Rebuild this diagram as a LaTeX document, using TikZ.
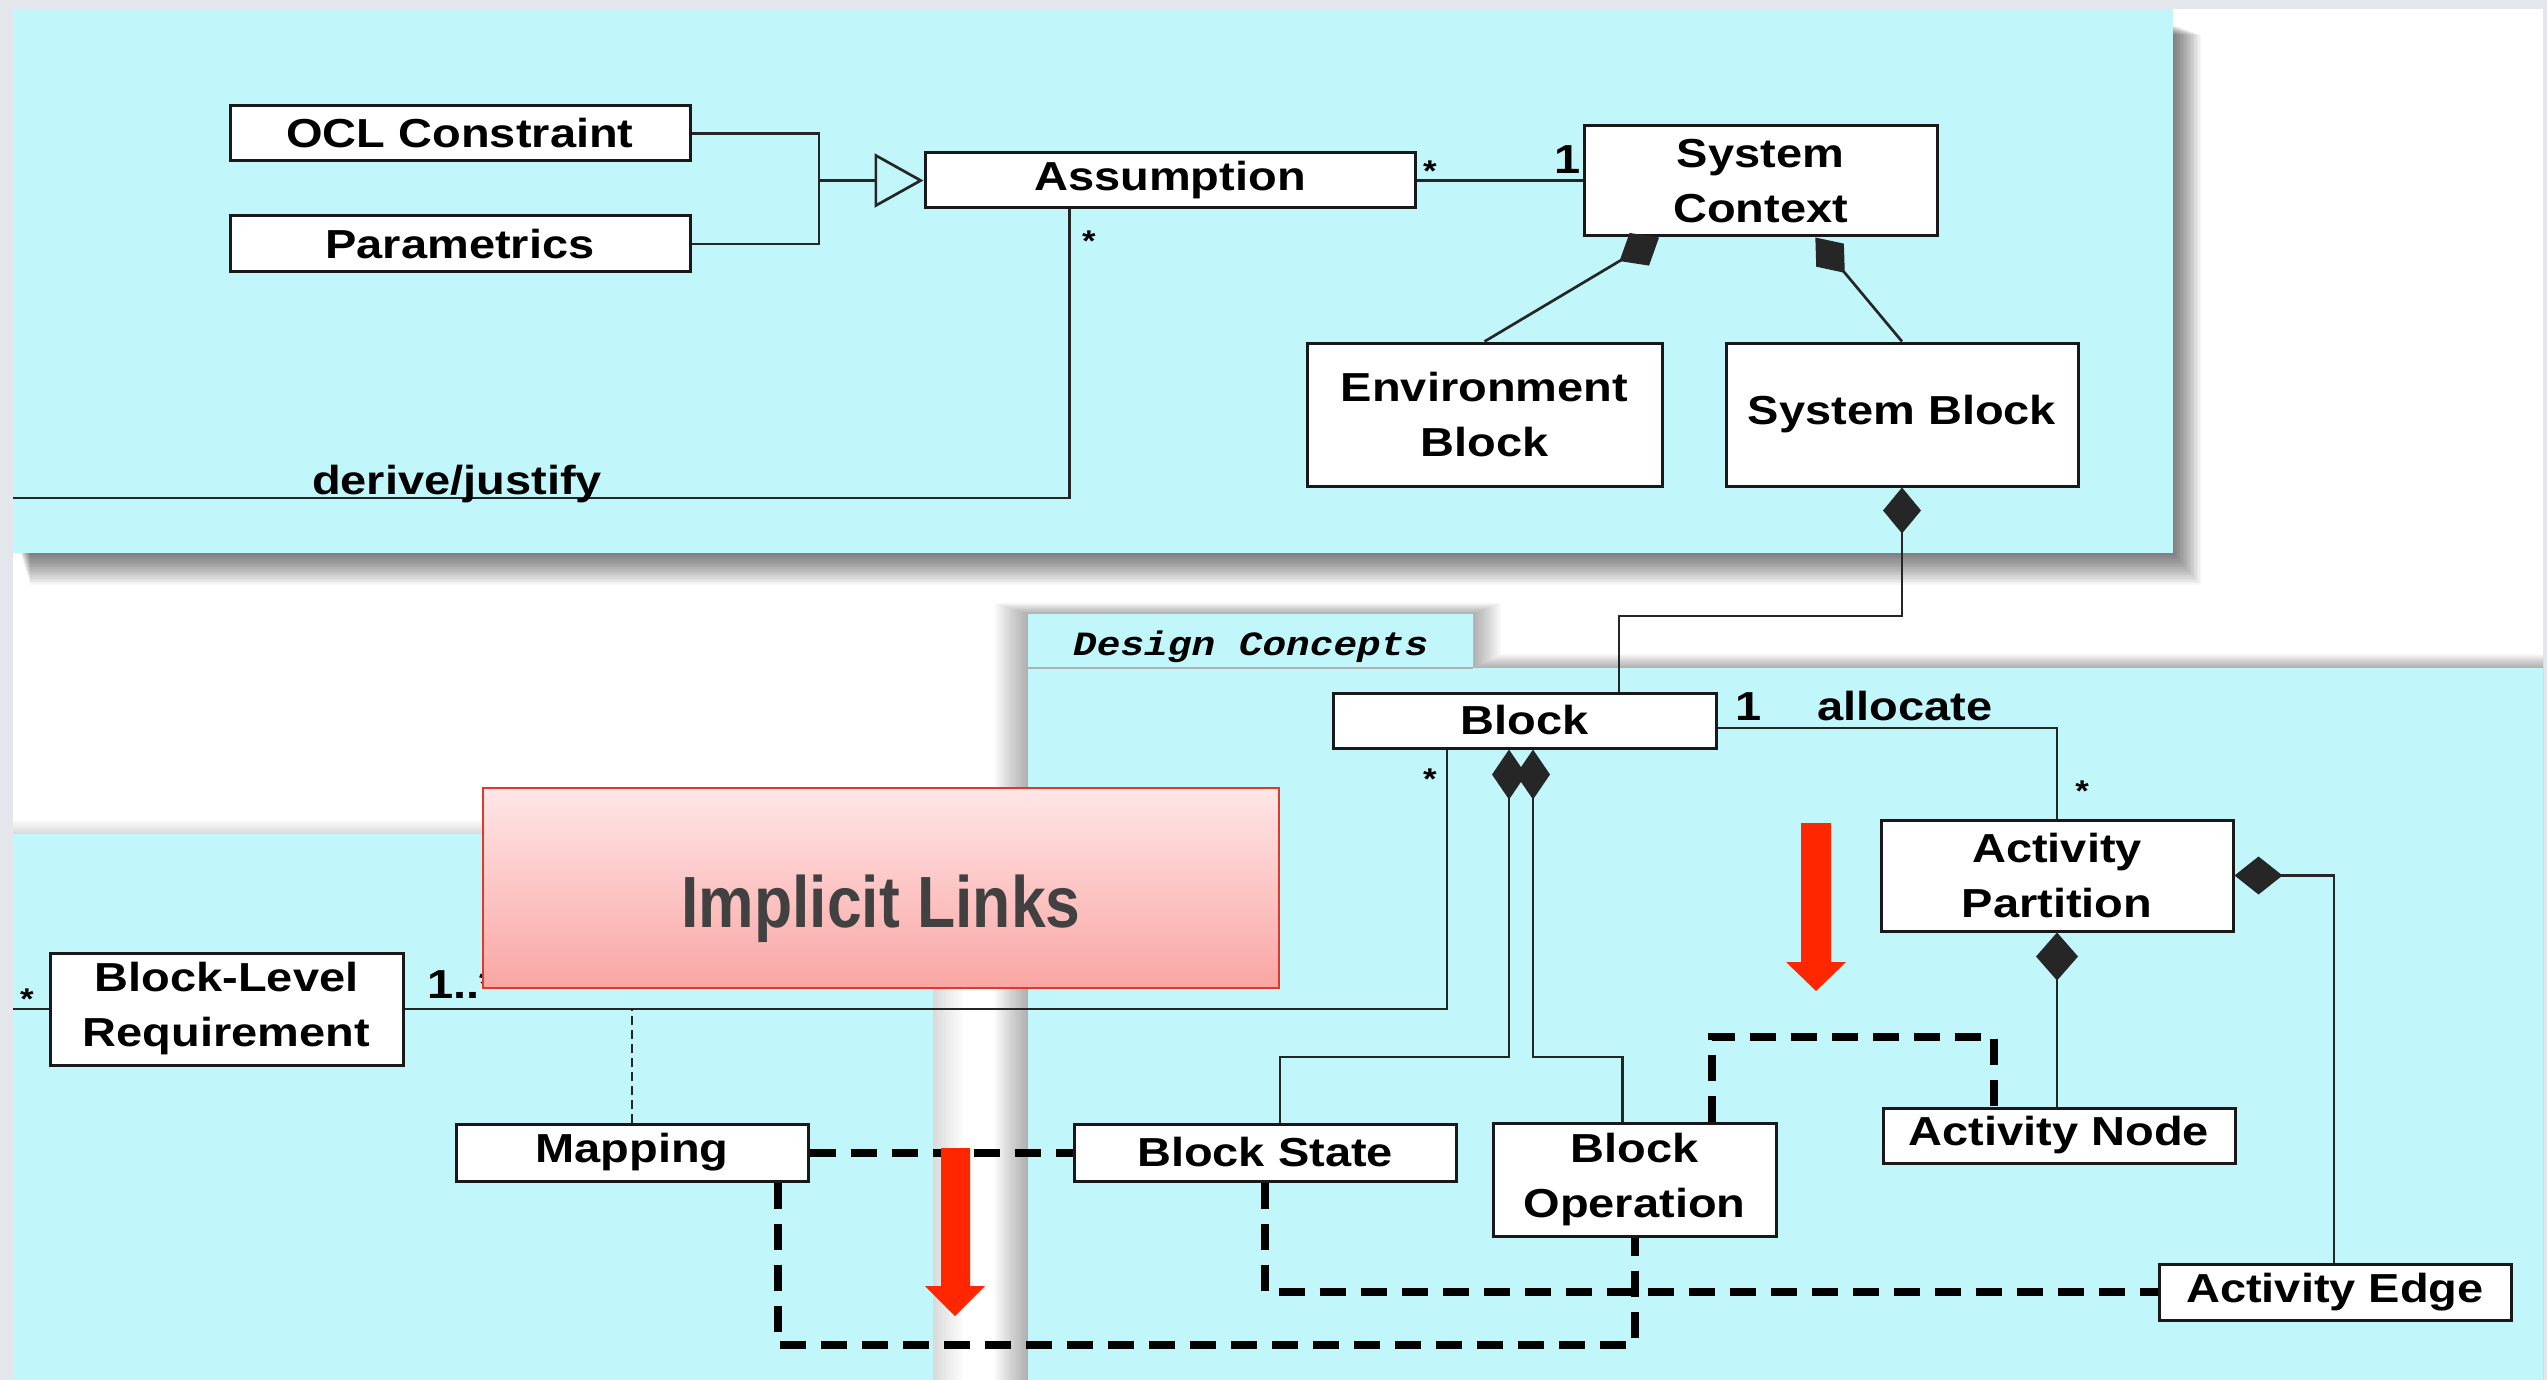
\documentclass[tikz,border=0pt]{standalone}
\usepackage{fontspec}
\usetikzlibrary{arrows.meta,calc}
\newfontfamily\umlfont[FakeStretch=1.16]{Liberation Sans}
\newfontfamily\dcfont[FakeStretch=1.16]{Liberation Mono}
\newfontfamily\ilfont[FakeStretch=0.86]{Liberation Sans}
\definecolor{panel}{RGB}{193,247,251}
\definecolor{edgegray}{RGB}{227,231,235}
\definecolor{arrowred}{RGB}{255,38,0}
\definecolor{ilborder}{RGB}{226,56,44}
\definecolor{iltop}{RGB}{255,230,231}
\definecolor{ilbot}{RGB}{249,166,163}
\definecolor{iltext}{RGB}{65,65,65}
\begin{document}
\begin{tikzpicture}[x=1pt,y=-1pt,
  umlbox/.style={draw=black!90, fill=white, line width=3pt, inner sep=0pt, align=center,
     font=\umlfont\bfseries\fontsize{40.5}{55}\selectfont},
  lbl/.style={inner sep=0pt, font=\umlfont\bfseries\fontsize{40.5}{55}\selectfont},
  mult/.style={inner sep=0pt, anchor=base, font=\umlfont\bfseries\fontsize{30}{36}\selectfont},
  conn/.style={draw=black!85, line width=2.7pt},
  impl/.style={draw=black, line width=8pt, dash pattern=on 26pt off 15pt},
  redarrow/.style={fill=arrowred}
]
\useasboundingbox (0,0) rectangle (2547,1380);
\fill[white] (0,0) rectangle (2547,1380);
% gray frame edges
\fill[edgegray] (0,0) rectangle (2547,9);
\fill[edgegray] (0,0) rectangle (13,1380);
\fill[edgegray] (2543,0) rectangle (2547,1380);
% top panel with soft shadow
\foreach \k in {1,...,20} {\fill[black,opacity=0.03] ({20+0.5*\k},{25+0.5*\k}) rectangle ({2173+1.4*\k},{553+1.6*\k});}
\fill[panel] (13,9) rectangle (2173,553);
% lower left panel
\foreach \k in {1,...,12} {\fill[black,opacity=0.012] (13,{834-1.2*\k}) rectangle ({933+2.5*\k},1380);}
\fill[panel] (13,834) rectangle (933,1380);
% lower right panel (Design Concepts)
\foreach \k in {1,...,14} {\fill[black,opacity=0.025] ({1028-2.4*\k},{614-0.8*\k}) rectangle ({1473+2*\k},668) ({1028-2.4*\k},{668-1*\k}) rectangle (2543,1380);}
\fill[panel] (1028,614) rectangle (1473,668) (1028,668) rectangle (2543,1380);
\draw[black!30, line width=1.5pt] (1028,668) -- (1473,668);
\node[anchor=base west, inner sep=0pt, font=\dcfont\bfseries\itshape\fontsize{34}{40}\selectfont] (dc) at (1073,655) {Design Concepts};

% boxes
\node[umlbox, minimum width=460pt, minimum height=55pt] (ocl) at (460,133.5) {OCL Constraint};
\node[umlbox, minimum width=460pt, minimum height=56pt] (par) at (460,244) {Parametrics};
\node[umlbox, minimum width=490pt, minimum height=55pt] (ass) at (1170,180.5) {Assumption};
\node[umlbox, minimum width=353pt, minimum height=110pt] (sc) at (1760.5,181) {System\\Context};
\node[umlbox, minimum width=355pt, minimum height=143pt] (env) at (1484.5,414.5) {Environment\\Block};
\node[umlbox, minimum width=352pt, minimum height=143pt] (sb) at (1902,414.5) {System Block};
\node[umlbox, minimum width=383pt, minimum height=55pt] (blk) at (1524.5,720.5) {Block};
\node[umlbox, minimum width=352pt, minimum height=111pt] (ap) at (2057,875.5) {Activity\\Partition};
\node[umlbox, minimum width=353pt, minimum height=112pt] (blr) at (226.5,1009) {Block-Level\\Requirement};
\node[umlbox, minimum width=352pt, minimum height=57pt] (map) at (632,1152.5) {Mapping};
\node[umlbox, minimum width=382pt, minimum height=57pt] (bs) at (1265,1152.5) {Block State};
\node[umlbox, minimum width=283pt, minimum height=113pt] (bo) at (1634.5,1179.5) {Block\\Operation};
\node[umlbox, minimum width=352pt, minimum height=55pt] (an) at (2059,1135.5) {Activity Node};
\node[umlbox, minimum width=352pt, minimum height=56pt] (ae) at (2335,1292) {Activity Edge};

% generalization
\coordinate (gj) at (819,180.5);
\draw[conn] (ocl.east) -| (gj) |- (par.east);
\draw[conn, -{Triangle[open, length=49pt, width=54pt]}] (gj) -- (ass.west);
% assumption - system context
\draw[conn] (ass.east) -- (sc.west |- ass.east);
\node[lbl, anchor=base west] (one1) at (1554,174) {1};
\node[mult] (s1) at (1430,182) {*};
% derive/justify
\coordinate (dj) at (13,498);
\draw[conn] ($(ass.south west)+(146,0)$) |- (dj);
\node[mult] (s2) at (1089,252) {*};
\node[lbl, anchor=base] (djl) at (457,494) {derive/justify};
% compositions into system context
\draw[conn, -{Diamond[length=46pt,width=38pt]}] (env.north) -- ($(sc.south west)!0.215!(sc.south east)$);
\draw[conn, -{Diamond[length=46pt,width=36pt]}] (sb.north) -- ($(sc.south west)!0.654!(sc.south east)$);
% system block - block
\coordinate (k1) at (1619,616);
\draw[conn, {Diamond[length=46pt,width=38pt]}-] (sb.south) |- (k1) -- (k1 |- blk.north);
% block - activity partition
\draw[conn] ($(blk.east)+(0,7.5)$) -| (ap.north);
\node[lbl, anchor=base west] (one2) at (1735,720) {1};
\node[lbl, anchor=base west] (alloc) at (1817,720) {allocate};
\node[mult] (s4) at (2082,801) {*};
% block - block-level requirement
\coordinate (k2) at (1447,1009);
\draw[conn] (k2 |- blk.south) -- (k2) -- (blr.east);
\coordinate (k3) at (13,1009);
\draw[conn] (blr.west) -- (k3);
\node[mult] (s3) at (1430,789) {*};
\node[mult] (s5) at (27,1009) {*};
\node[lbl, anchor=base west] (m1) at (427,998) {1..*};
% block compositions
\coordinate (k4) at (1509,1057);
\coordinate (k5) at (1533,1057);
\draw[conn, {Diamond[length=50pt,width=34pt]}-] (k5 |- blk.south) -- (k5) -| ($(bo.north)+(-12,0)$);
\draw[conn, {Diamond[length=50pt,width=34pt]}-] (k4 |- blk.south) -- (k4) -| ($(bs.north)+(15,0)$);
% activity partition compositions
\draw[conn, {Diamond[length=48pt,width=38pt]}-] (ap.east) -| ($(ae.north)+(-1,0)$);
\draw[conn, {Diamond[length=48pt,width=42pt]}-] (ap.south) -- (ap.south |- an.north);
% mapping trace (thin dashed)
\draw[conn, line width=2pt, dash pattern=on 9pt off 5pt] (map.north) -- (map.north |- k2);
% implicit links (thick dashed)
\draw[impl] (map.east) -- (bs.west);
\draw[impl] ($(map.south)+(146,0)$) |- ($(bo.south)+(0,107)$) -- (bo.south);
\draw[impl] (bs.south) |- (ae.west);
\draw[impl] ($(bo.north)+(77.5,0)$) |- ($(an.north)+(-65,-70)$) -- ($(an.north)+(-65,0)$);

% Implicit Links banner
\node[draw=ilborder, line width=2pt, top color=iltop, bottom color=ilbot, minimum width=796pt, minimum height=200pt, inner sep=0pt] (il) at (881,888) {};
\node[anchor=base, inner sep=0pt, text=iltext, font=\ilfont\bfseries\fontsize{72.6}{80}\selectfont] (ilt) at (881,927) {Implicit Links};

% red arrows
\fill[redarrow] (1801,823) -- (1831,823) -- (1831,962) -- (1846,962) -- (1816,991) -- (1786,962) -- (1801,962) -- cycle;
\fill[redarrow] (941,1148) -- (970,1148) -- (970,1286) -- (985,1286) -- (955,1316) -- (925,1286) -- (941,1286) -- cycle;
\end{tikzpicture}
\end{document}
